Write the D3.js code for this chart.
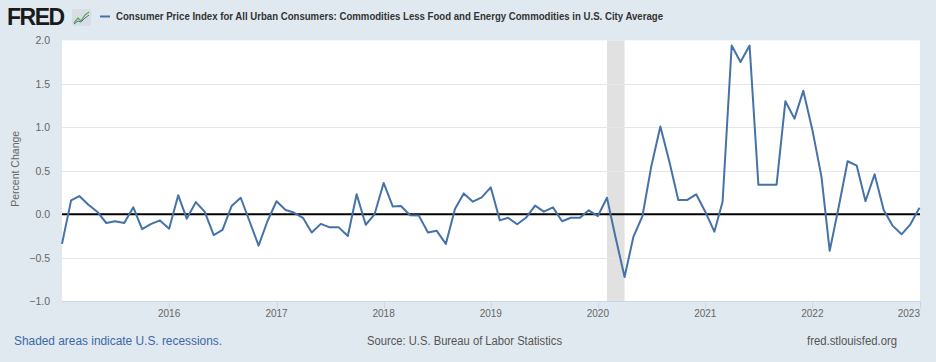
<!DOCTYPE html>
<html>
<head>
<meta charset="utf-8">
<script src="https://cdn.jsdelivr.net/npm/d3@7"></script>
<style>
  body { margin: 0; background: #e1e9f0; }
  svg { display: block; font-family: "Liberation Sans", Arial, sans-serif; }
</style>
</head>
<body>
<div id="chart"></div>
<script>
// monthly percent change, Jan 2015 .. Jan 2023
const startMonth = '2015-01-01';
const values = [
  -0.34, 0.16, 0.21, 0.11, 0.03, -0.10, -0.08, -0.10, 0.08, -0.17, -0.11, -0.07,
  -0.165, 0.22, -0.05, 0.14, 0.03, -0.24, -0.18, 0.095, 0.19, -0.08, -0.36, -0.08,
  0.15, 0.05, 0.02, -0.04, -0.21, -0.11, -0.15, -0.15, -0.25, 0.23, -0.12, 0.0,
  0.36, 0.09, 0.095, -0.01, -0.015, -0.21, -0.19, -0.34, 0.06, 0.24, 0.145, 0.195,
  0.31, -0.07, -0.04, -0.115, -0.04, 0.10, 0.03, 0.08, -0.08, -0.04, -0.04, 0.046,
  -0.02, 0.19, -0.26, -0.72, -0.26, -0.02, 0.55, 1.01, 0.60, 0.165, 0.165, 0.23,
  0.03, -0.20, 0.145, 1.94, 1.75, 1.94, 0.34, 0.34, 0.34, 1.30, 1.10, 1.42,
  0.97, 0.43, -0.42, 0.09, 0.61, 0.56, 0.15, 0.46, 0.05, -0.13, -0.23, -0.115,
  0.076
];
const yTicks = [-1.0, -0.5, 0.0, 0.5, 1.0, 1.5, 2.0];
const xTickYears = [2016, 2017, 2018, 2019, 2020, 2021, 2022, 2023];
const recessions = [['2020-02-01', '2020-04-01']];

const width = 936;
const height = 362;
const margin = { top: 40.3, left: 62, right: 16, bottom: 60.7 };

const parse = d3.timeParse('%Y-%m-%d');
const t0 = parse(startMonth);
const data = values.map((v, i) => ({ date: d3.timeMonth.offset(t0, i), value: v }));

const svg = d3.select('#chart')
  .append('svg')
  .attr('width', width)
  .attr('height', height);

svg.append('rect')
  .attr('width', width)
  .attr('height', height)
  .attr('fill', '#e1e9f0');

const x = d3.scaleTime()
  .domain([t0, data[data.length - 1].date])
  .range([margin.left, width - margin.right - 0.5]);

const y = d3.scaleLinear()
  .domain([-1, 2])
  .range([height - margin.bottom, margin.top]);

// plot background
svg.append('rect')
  .attr('x', margin.left)
  .attr('y', margin.top)
  .attr('width', width - margin.right - margin.left)
  .attr('height', y(-1) - y(2))
  .attr('fill', '#ffffff');

// recession shading
svg.selectAll('.recession')
  .data(recessions)
  .enter()
  .append('rect')
  .attr('class', 'recession')
  .attr('x', (d) => x(parse(d[0])))
  .attr('y', margin.top)
  .attr('width', (d) => x(parse(d[1])) - x(parse(d[0])))
  .attr('height', y(-1) - y(2))
  .attr('fill', '#e1e1e1');

// horizontal grid
svg.selectAll('.grid')
  .data(yTicks.filter((d) => d !== 0 && d !== -1 && d !== 2))
  .enter()
  .append('line')
  .attr('class', 'grid')
  .attr('x1', margin.left)
  .attr('x2', width - margin.right)
  .attr('y1', (d) => Math.round(y(d)) + 0.5)
  .attr('y2', (d) => Math.round(y(d)) + 0.5)
  .attr('stroke', '#e6e6e6')
  .attr('stroke-width', 1);

// x axis line and ticks
svg.append('line')
  .attr('x1', margin.left)
  .attr('x2', width - margin.right)
  .attr('y1', Math.round(y(-1)) + 0.5)
  .attr('y2', Math.round(y(-1)) + 0.5)
  .attr('stroke', '#ccd6eb');

const xTickDates = xTickYears.map((yr) => new Date(yr, 0, 1));

svg.selectAll('.xtick')
  .data(xTickDates)
  .enter()
  .append('line')
  .attr('class', 'xtick')
  .attr('x1', (d) => Math.round(x(d)) + 0.5)
  .attr('x2', (d) => Math.round(x(d)) + 0.5)
  .attr('y1', y(-1))
  .attr('y2', y(-1) + 7)
  .attr('stroke', '#ccd6eb');

// last label is pulled inside the plot edge
svg.selectAll('.xlabel')
  .data(xTickDates)
  .enter()
  .append('text')
  .attr('class', 'xlabel')
  .attr('x', (d, i) => (i === xTickDates.length - 1 ? width - margin.right : x(d)))
  .attr('y', 317)
  .attr('text-anchor', (d, i) => (i === xTickDates.length - 1 ? 'end' : 'middle'))
  .attr('fill', '#666666')
  .style('font-size', '10px')
  .text((d) => d3.timeFormat('%Y')(d));

// y labels
svg.selectAll('.ylabel')
  .data(yTicks)
  .enter()
  .append('text')
  .attr('class', 'ylabel')
  .attr('x', 50)
  .attr('y', (d) => y(d) + 4)
  .attr('text-anchor', 'end')
  .attr('fill', '#666666')
  .style('font-size', '10.5px')
  .text((d) => d3.format('.1f')(d));

svg.append('text')
  .attr('transform', `translate(19,${(y(2) + y(-1)) / 2 - 2}) rotate(-90)`)
  .attr('text-anchor', 'middle')
  .attr('fill', '#666666')
  .style('font-size', '10.5px')
  .text('Percent Change');

// zero line
svg.append('line')
  .attr('x1', margin.left)
  .attr('x2', width - margin.right)
  .attr('y1', y(0))
  .attr('y2', y(0))
  .attr('stroke', '#000000')
  .attr('stroke-width', 2);

// series
const line = d3.line()
  .x((d) => x(d.date))
  .y((d) => y(d.value));

svg.append('path')
  .datum(data)
  .attr('fill', 'none')
  .attr('stroke', '#4572a7')
  .attr('stroke-width', 2)
  .attr('stroke-linejoin', 'round')
  .attr('d', line);

// header: FRED logo
svg.append('text')
  .attr('x', 7)
  .attr('y', 25)
  .attr('fill', '#1a1a1a')
  .style('font-size', '23px')
  .style('font-weight', 'bold')
  .style('letter-spacing', '-1.5px')
  .text('FRED');

const icon = svg.append('g').attr('transform', 'translate(72,9)');
icon.append('rect')
  .attr('width', 19)
  .attr('height', 17)
  .attr('rx', 2)
  .attr('fill', '#d7dde4');
icon.append('polyline')
  .attr('points', '2,14 6,9 9,12 13,6 17,3')
  .attr('fill', 'none')
  .attr('stroke', '#6aa84f')
  .attr('stroke-width', 1.3);
icon.append('polyline')
  .attr('points', '2,15 6,12 9,13 13,9 17,6')
  .attr('fill', 'none')
  .attr('stroke', '#4572a7')
  .attr('stroke-width', 1);

svg.append('line')
  .attr('x1', 100)
  .attr('x2', 110)
  .attr('y1', 16.5)
  .attr('y2', 16.5)
  .attr('stroke', '#4572a7')
  .attr('stroke-width', 2);

svg.append('text')
  .attr('x', 116)
  .attr('y', 20)
  .attr('fill', '#333333')
  .style('font-size', '11px')
  .style('font-weight', 'bold')
  .attr('textLength', 547)
  .attr('lengthAdjust', 'spacingAndGlyphs')
  .text('Consumer Price Index for All Urban Consumers: Commodities Less Food and Energy Commodities in U.S. City Average');

// footer
svg.append('text')
  .attr('x', 14)
  .attr('y', 345)
  .attr('fill', '#3a68a8')
  .style('font-size', '12px')
  .attr('textLength', 208)
  .attr('lengthAdjust', 'spacingAndGlyphs')
  .text('Shaded areas indicate U.S. recessions.');

svg.append('text')
  .attr('x', 367)
  .attr('y', 345)
  .attr('fill', '#555555')
  .style('font-size', '12px')
  .attr('textLength', 195)
  .attr('lengthAdjust', 'spacingAndGlyphs')
  .text('Source: U.S. Bureau of Labor Statistics');

svg.append('text')
  .attr('x', 807)
  .attr('y', 345)
  .attr('fill', '#555555')
  .style('font-size', '12px')
  .attr('textLength', 90)
  .attr('lengthAdjust', 'spacingAndGlyphs')
  .text('fred.stlouisfed.org');
</script>
</body>
</html>
